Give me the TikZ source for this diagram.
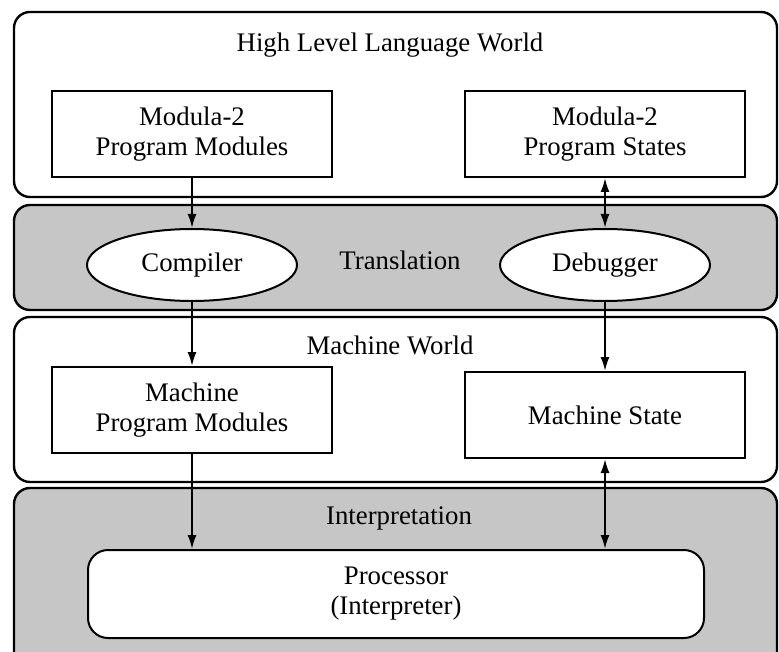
\documentclass[tikz,border=0pt]{standalone}
\usepackage{fontspec}
\setmainfont{Liberation Serif}
\usetikzlibrary{positioning,shapes.geometric,arrows.meta}
\tikzset{
  every node/.style={
    font=\fontsize{13.4}{15}\selectfont,
    align=center
  },
  module/.style={draw, fill=white, line width=1pt,
    minimum width=140pt, minimum height=43pt},
  tool/.style={draw, ellipse, fill=white, line width=1pt,
    minimum width=105pt, minimum height=36pt},
  world/.style={draw, line width=1.2pt, rounded corners=8pt},
  layer/.style={world, fill=gray!45},
  link/.style={line width=1pt, -{Latex[length=7pt,width=4.5pt]}},
  twolink/.style={line width=1pt,
    {Latex[length=7pt,width=4.5pt]}-{Latex[length=7pt,width=4.5pt]}}
}

\begin{document}
\begin{tikzpicture}
      \clip (0,0) rectangle (389.5pt,-325.5pt);
      \fill[white] (0,0) rectangle (389.5pt,-325.5pt);

      % the four bands
      \draw[world] (7pt,-6pt) rectangle (388.5pt,-98.5pt);
      \draw[layer] (7pt,-102.5pt) rectangle (388.5pt,-155pt);
      \draw[world] (7pt,-158.5pt) rectangle (388.5pt,-241pt);
      \draw[layer] (7pt,-244pt) rectangle (388.5pt,-340pt);

      \node (HLW) at (195pt,-22.5pt) {High Level Language World};
      \node [module] (ModPr) at (96pt,-67pt) {Modula-2\\Program Modules};
      \node [module, on grid, right=206.5pt of ModPr] (ModSt) {Modula-2\\Program States};

      \node (Trans) at (200pt,-130pt) {Translation};
      \node [tool, on grid, below=65.5pt of ModPr] (Comp) {Compiler};
      \node [tool, on grid, below=65.5pt of ModSt] (Debug) {Debugger};

      \node (MW) at (195pt,-172.5pt) {Machine World};
      \node [module, on grid, below=72.5pt of Comp] (MPM) {Machine\\Program Modules};
      \node [module, on grid, below=75pt of Debug] (MSt) {Machine State};

      \node (Interp) at (199.5pt,-259pt) {Interpretation};
      \node [module, rounded corners=10pt, minimum width=308pt, minimum height=44pt]
        (Proc) at (198pt,-297pt) {Processor\\(Interpreter)};

      \draw[link] (ModPr) -- (Comp);
      \draw[twolink] (ModSt) -- (Debug);
      \draw[link] (Comp) -- (MPM);
      \draw[link] (Debug) -- (MSt);
      \draw[link] (MPM) -- (MPM |- Proc.north);
      \draw[twolink] (MSt) -- (MSt |- Proc.north);
    \end{tikzpicture}
\end{document}
